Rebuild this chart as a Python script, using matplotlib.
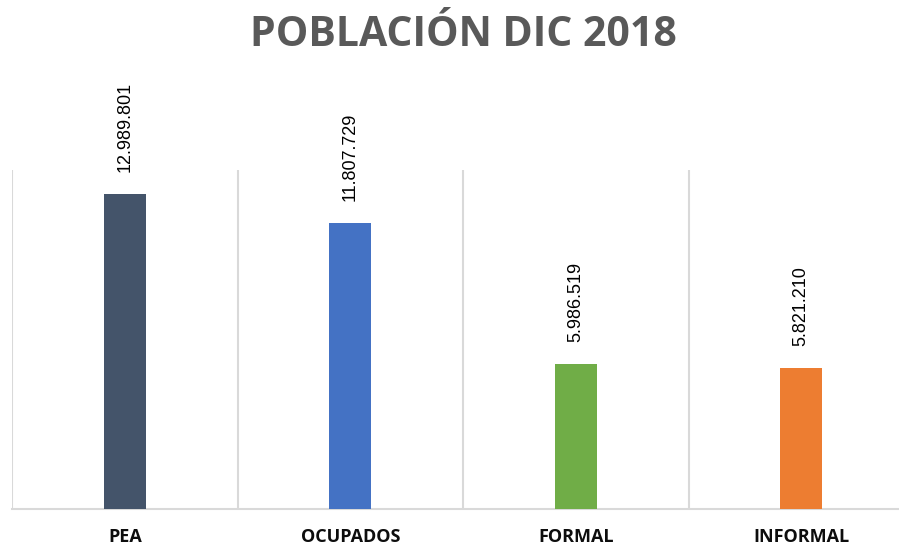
import matplotlib.pyplot as plt

# datos
categorias = ['PEA', 'OCUPADOS', 'FORMAL', 'INFORMAL']
valores = [12989801, 11807729, 5986519, 5821210]
colores = ['#44546A', '#4472C4', '#70AD47', '#ED7D31']

def formato(v):
    return f'{v:,}'.replace(',', '.')

fig = plt.figure(figsize=(8.99, 5.45), dpi=100)
# el area del grafico sigue un poco mas alla del borde derecho
ax = fig.add_axes([12 / 899, 36 / 545, 902 / 899, 339 / 545])

x = range(len(categorias))
ax.bar(x, valores, width=0.186, color=colores, zorder=3)

ax.set_xlim(-0.5, len(categorias) - 0.5)
ax.set_ylim(0, 14000000)

# lineas verticales entre categorias
for b in [-0.5, 0.5, 1.5, 2.5, 3.5]:
    ax.axvline(b, color='#d9d9d9', lw=1.5, zorder=1)

for s in ['top', 'right', 'left']:
    ax.spines[s].set_visible(False)
ax.spines['bottom'].set_color('#d9d9d9')
ax.spines['bottom'].set_linewidth(1.5)
ax.set_yticks([])
ax.set_xticks(list(x))
ax.set_xticklabels(categorias, fontfamily='Open Sans', fontweight='bold',
                   fontsize=13, color='#0d0d0d')
ax.tick_params(axis='x', length=0, pad=14)

# etiquetas de valor giradas
for i, v in enumerate(valores):
    ax.annotate(formato(v), (i, v), xytext=(0, 16), textcoords='offset points',
                rotation=90, ha='center', va='bottom',
                fontfamily='Liberation Sans', fontsize=13, color='#000000')

fig.text((12 + 914) / 2 / 899, 1 - 36 / 545, 'POBLACIÓN DIC 2018',
         ha='center', va='center', fontfamily='Open Sans', fontweight='bold',
         fontsize=29.5, color='#595959')

plt.savefig('out.png', dpi=100)
